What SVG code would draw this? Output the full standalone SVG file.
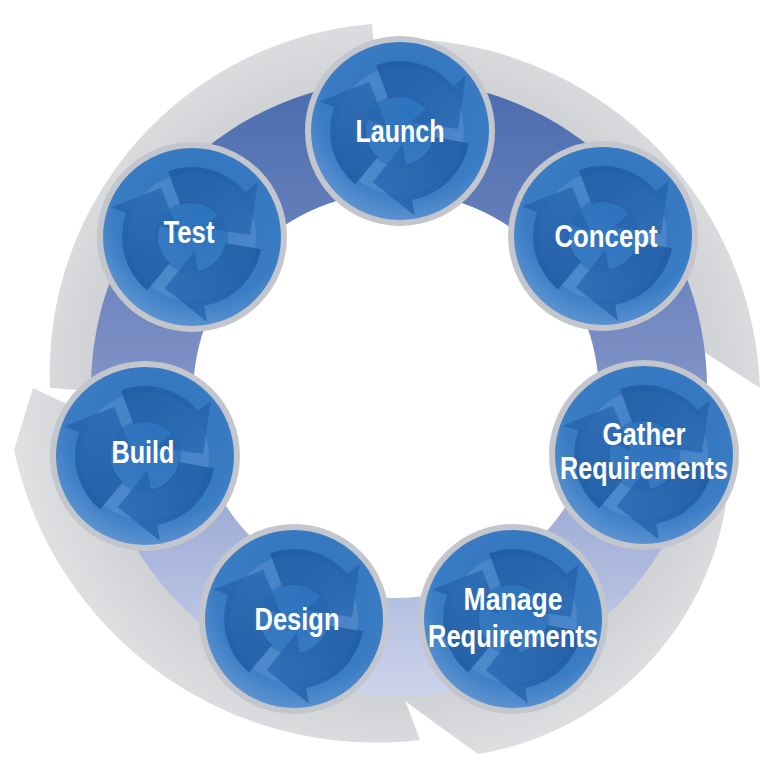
<svg xmlns="http://www.w3.org/2000/svg" xmlns:xlink="http://www.w3.org/1999/xlink" width="761" height="762" viewBox="0 0 761 762">
<defs>
<style>
.lbl{font-family:"Liberation Sans",Arial,sans-serif;font-weight:bold;font-size:31px;fill:#ffffff;text-anchor:middle}
.disc{fill:url(#discG);stroke:#c3c6cc;stroke-width:6}
.band{fill:url(#grayG)}
</style>
<radialGradient id="grayG" gradientUnits="userSpaceOnUse" cx="399" cy="388" r="400">
<stop offset="0.72" stop-color="#cdced1"/>
<stop offset="1" stop-color="#e2e3e5"/>
</radialGradient>
<linearGradient id="ringG" gradientUnits="userSpaceOnUse" x1="0" y1="80" x2="0" y2="700">
<stop offset="0" stop-color="#4a6cae"/>
<stop offset="0.45" stop-color="#7c8fc4"/>
<stop offset="1" stop-color="#cdd4ec"/>
</linearGradient>
<radialGradient id="discG" cx="0.56" cy="0.36" r="0.72">
<stop offset="0" stop-color="#2d72bd"/>
<stop offset="0.68" stop-color="#3b7dc4"/>
<stop offset="1" stop-color="#6f9fd8"/>
</radialGradient>
<linearGradient id="arwG" x1="0" y1="0" x2="1" y2="1">
<stop offset="0" stop-color="#1b57a0"/>
<stop offset="1" stop-color="#2a69b3"/>
</linearGradient>
<path id="arw" d="M-23.9,-65.8 A70,70 0 0 1 53.6,-45 L65.9,-55.3 L58,-2 L10.7,-9 L26,-21.9 A34,34 0 0 0 -11.6,-32 Z" fill="url(#arwG)" opacity="0.8"/>
<g id="motif">
<circle r="50" fill="none" stroke="#7aa7dc" stroke-width="28" opacity="0.3"/>
<use xlink:href="#arw"/>
<use xlink:href="#arw" transform="rotate(120)"/>
<use xlink:href="#arw" transform="rotate(240)"/>
</g>
</defs>
<rect width="761" height="762" fill="#ffffff"/>
<g id="connectors">
<path class="band" d="M50,388 A350,350 0 0 1 372,24 L379,99 A290,290 0 0 0 109,392 Z"/>
<path class="band" d="M425,40 A362,362 0 0 1 760,388 L690,343 A290,290 0 0 0 449,102 Z"/>
<path class="band" d="M728,488 A300,300 0 0 1 478,754 L413,707 L392,690 A290,290 0 0 0 670,500 Z"/>
<path class="band" d="M405,700 L420,740 A370,370 0 0 1 14,450 L33,388 L100,420 A290,290 0 0 0 400,680 Z"/>
<path fill="url(#ringG)" fill-rule="evenodd" d="M91,388 A308,308 0 1 0 707,388 A308,308 0 1 0 91,388 Z M193,395 A203,203 0 1 1 599,395 A203,203 0 1 1 193,395 Z"/>
</g>
<g id="launch" transform="translate(400,131)">
<circle class="disc" r="92"/><use xlink:href="#motif"/>
<text class="lbl" x="0" y="11" textLength="89" lengthAdjust="spacingAndGlyphs">Launch</text>
</g>
<g id="concept" transform="translate(603,236)">
<circle class="disc" r="92"/><use xlink:href="#motif"/>
<text class="lbl" x="3" y="11" textLength="103" lengthAdjust="spacingAndGlyphs">Concept</text>
</g>
<g id="gather" transform="translate(644,455)">
<circle class="disc" r="92"/><use xlink:href="#motif"/>
<text class="lbl" x="0" y="-10" textLength="83" lengthAdjust="spacingAndGlyphs">Gather</text>
<text class="lbl" x="0" y="24" textLength="168" lengthAdjust="spacingAndGlyphs">Requirements</text>
</g>
<g id="manage" transform="translate(513,619)">
<circle class="disc" r="92"/><use xlink:href="#motif"/>
<text class="lbl" x="0" y="-9" textLength="99" lengthAdjust="spacingAndGlyphs">Manage</text>
<text class="lbl" x="0" y="28" textLength="170" lengthAdjust="spacingAndGlyphs">Requirements</text>
</g>
<g id="design" transform="translate(294,619)">
<circle class="disc" r="92"/><use xlink:href="#motif"/>
<text class="lbl" x="3" y="11" textLength="85" lengthAdjust="spacingAndGlyphs">Design</text>
</g>
<g id="build" transform="translate(145,456)">
<circle class="disc" r="92"/><use xlink:href="#motif"/>
<text class="lbl" x="-2" y="7" textLength="63" lengthAdjust="spacingAndGlyphs">Build</text>
</g>
<g id="test" transform="translate(192,237)">
<circle class="disc" r="92"/><use xlink:href="#motif"/>
<text class="lbl" x="-3" y="6" textLength="51" lengthAdjust="spacingAndGlyphs">Test</text>
</g>
</svg>
